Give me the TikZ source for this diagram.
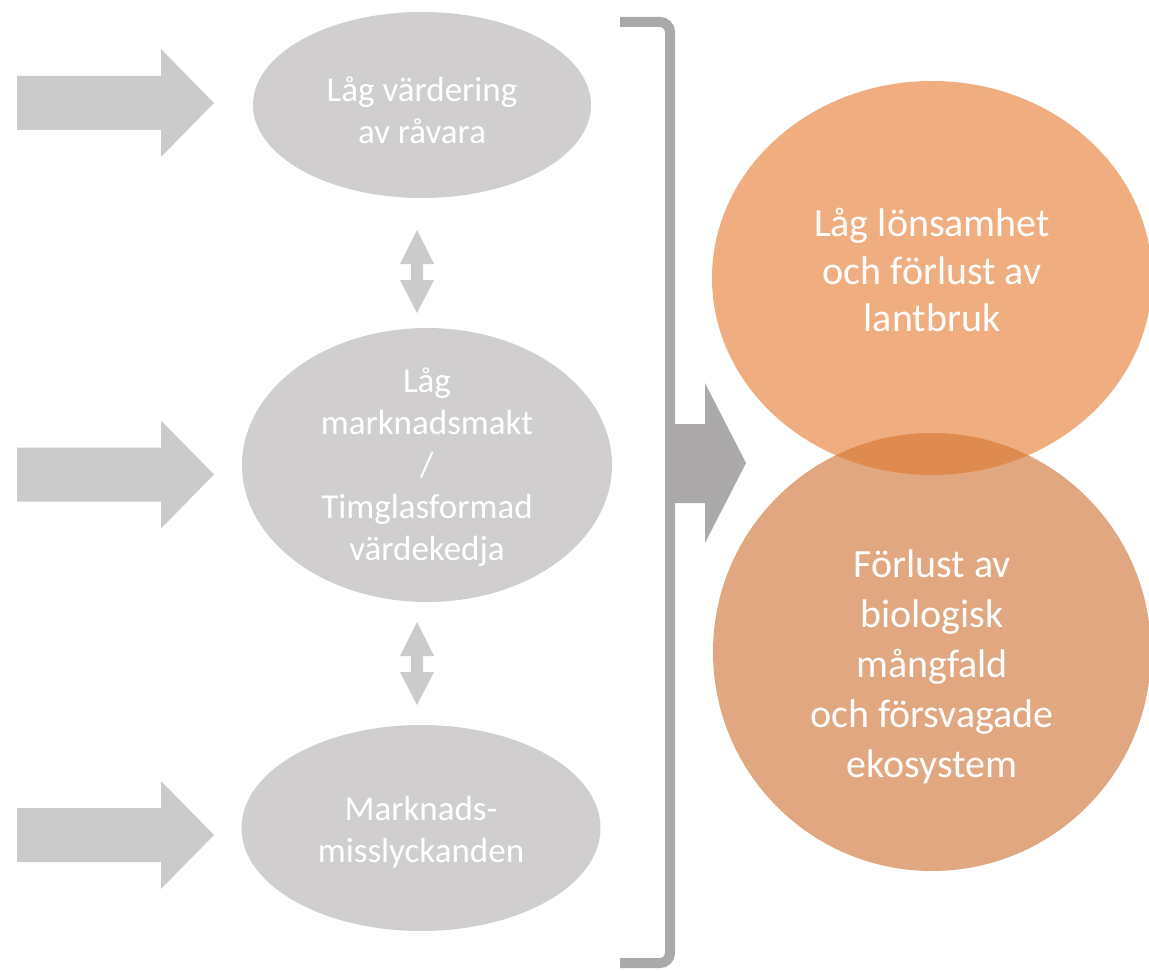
\documentclass[tikz,border=0pt]{standalone}
\usepackage{fontspec}
\setmainfont{Carlito}
\usetikzlibrary{shapes.geometric}
\definecolor{ellgray}{HTML}{D0CECE}
\definecolor{arrgray}{HTML}{CBCBCB}
\definecolor{bigarrgray}{HTML}{ABA9A9}
\definecolor{brackgray}{HTML}{A9A9A9}
\definecolor{orangeA}{HTML}{F0AE80}
\definecolor{orangeB}{HTML}{E1A780}
\definecolor{orangeL}{HTML}{DF8A4E}
\begin{document}
\begin{tikzpicture}[x=1pt,y=-1pt,
  grayell/.style={ellipse, fill=ellgray, draw=none, inner sep=0pt},
  orangeell/.style={ellipse, draw=none, inner sep=0pt},
  graytext/.style={text=white, align=center, font=\fontsize{35}{42}\selectfont, inner sep=0pt},
  orangetext/.style={text=white, align=center, inner sep=0pt},
  inarrow/.style={fill=arrgray},
  linkarrow/.style={fill=arrgray},
  bracketline/.style={draw=brackgray, line width=10pt, rounded corners=10pt},
  bigarrow/.style={fill=bigarrgray}
]
\useasboundingbox (0,0) rectangle (1149,971);

% gray ellipses
\node[grayell, minimum width=338, minimum height=186] (e1) at (422,105) {};
\node[grayell, minimum width=370, minimum height=274] (e2) at (427,465) {};
\node[grayell, minimum width=359, minimum height=206] (e3) at (421,828) {};

\node[graytext] (t1) at (422,110) {Låg värdering\\av råvara};
\node[graytext] (t2) at (427,467) {Låg\\marknadsmakt\\/\\Timglasformad\\värdekedja};
\node[graytext] (t3) at (421,832) {Marknads-\\misslyckanden};

% input arrows
\foreach \yy/\nm in {103/a1, 474.5/a2, 835/a3}{
  \coordinate (\nm) at (214,\yy);
  \fill[inarrow, shift={(0,\yy)}] (17,-27) -- (161,-27) -- (161,-54) -- (214,0)
     -- (161,54) -- (161,27) -- (17,27) -- cycle;
}

% double arrows between ellipses
\foreach \yy/\nm in {230/d1, 622/d2}{
  \coordinate (\nm) at (417,\yy);
  \fill[linkarrow, shift={(417,\yy)}] (0,0) -- (17,34) -- (6,34) -- (6,50) -- (17,50)
     -- (0,83) -- (-17,50) -- (-6,50) -- (-6,34) -- (-17,34) -- cycle;
}

% bracket
\coordinate (bt) at (620,22);
\coordinate (bb) at (620,963);
\draw[bracketline] (bt) -- (670,22) -- (670,963) -- (bb);

% big arrow
\fill[bigarrow] (670,424) -- (705,424) -- (705,383) -- (746,463) -- (705,543)
   -- (705,503) -- (670,503) -- cycle;

% orange shapes
\node[orangeell, fill=orangeB, minimum width=438, minimum height=438] (c2) at (932,652) {};
\node[orangeell, fill=orangeA, minimum width=440, minimum height=394] (c1) at (932,278) {};
\begin{scope}
  \clip (932,278) ellipse [x radius=220, y radius=197];
  \fill[orangeL] (932,652) circle [radius=219];
\end{scope}

\node[orangetext, font=\fontsize{40}{47.5}\selectfont] (t4) at (932,270)
  {Låg lönsamhet\\och förlust av\\lantbruk};
\node[orangetext, font=\fontsize{40}{50}\selectfont] (t5) at (932,667)
  {Förlust av\\biologisk\\mångfald\\och försvagade\\ekosystem};
\end{tikzpicture}
\end{document}
